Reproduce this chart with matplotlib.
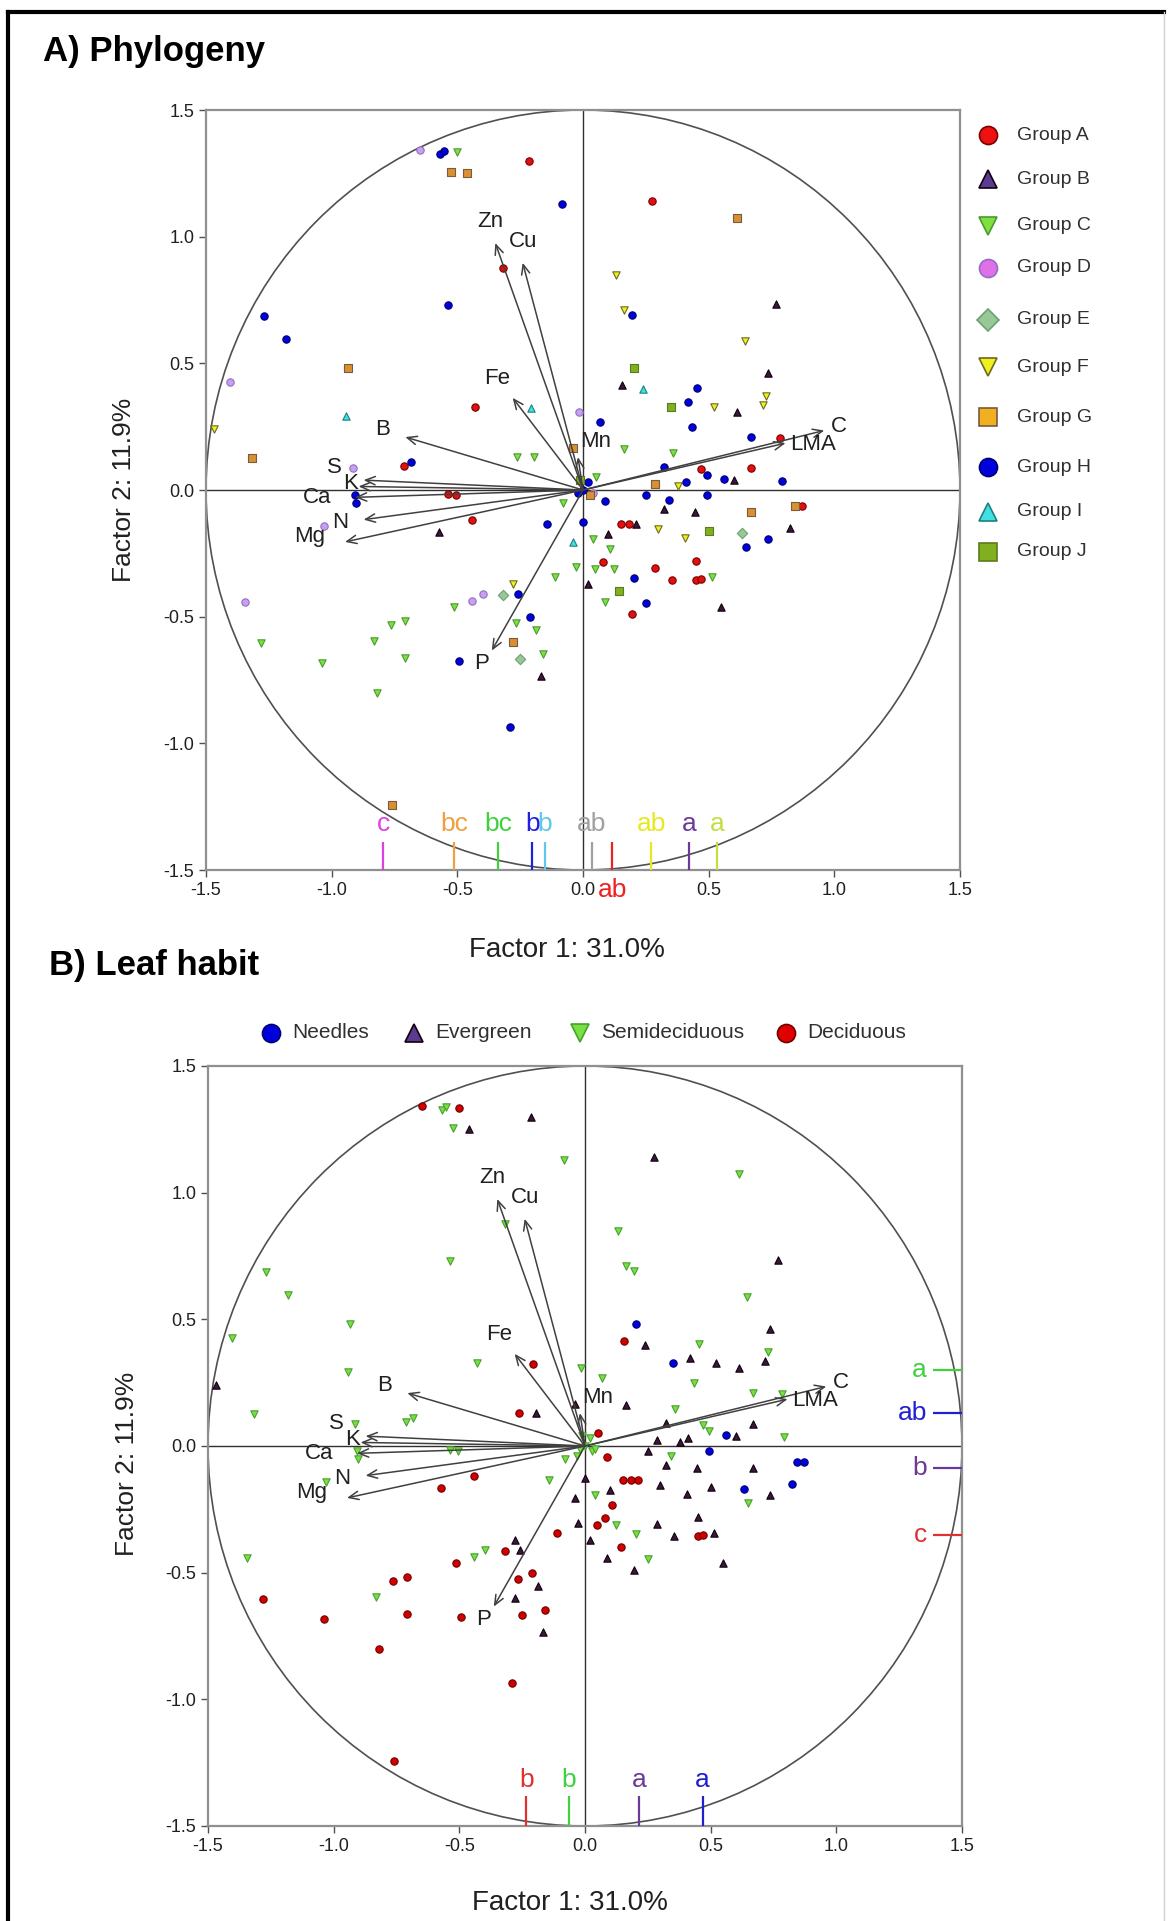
import numpy as np
import matplotlib.pyplot as plt
from matplotlib.patches import Circle

plt.rcParams['font.family'] = ['Liberation Sans', 'DejaVu Sans']
plt.rcParams['axes.unicode_minus'] = False

# sample scores on factor 1 / factor 2, with phylogenetic group and leaf habit
pc1 = [-0.647, -0.567, -0.555, -0.500, -0.527, -0.460, -0.213, -0.083, -0.320, -0.536,
       -1.269, -1.183, -1.403, -0.937, -0.944, -0.429, -1.316, -0.713, -0.683, -0.917,
       -0.907, -0.904, -0.537, -0.507, -0.571, -1.030, -0.263, -0.196, -0.207, -0.016,
       -0.040, -0.080, -0.143, 0.000, -0.040, -0.027, -0.113, -0.280, -0.260, -0.320,
       -0.396, -0.443, -0.513, -0.209, -0.267, -0.187, -0.280, -0.160, -0.167, -0.493,
       -0.709, -0.763, -0.833, -0.709, -0.820, -1.037, -1.280, -1.344, -0.289, -0.760,
       -1.470, -0.440, -0.250,
       0.275, 0.614, 0.766, 0.194, 0.165, 0.130, 0.645, 0.202, 0.155, 0.238,
       0.737, 0.350, 0.453, 0.419, 0.522, 0.614, 0.717, 0.727, 0.066, 0.433,
       0.667, 0.783, 0.324, 0.469, 0.495, 0.561, 0.601, 0.667, 0.793, 0.287,
       0.376, 0.410, 0.251, 0.493, 0.026, 0.086, 0.324, 0.445, 0.667, 0.845,
       0.870, 0.152, 0.185, 0.210, 0.300, 0.502, 0.634, 0.823, 0.737, 0.405,
       0.647, 0.040, 0.099, 0.106, 0.449, 0.046, 0.125, 0.079, 0.288, 0.202,
       0.353, 0.449, 0.470, 0.515, 0.020, 0.145, 0.089, 0.251, 0.194, 0.551,
       0.165, 0.357, 0.343,
       0.000, 0.020, -0.020, 0.040, -0.010, 0.050, -0.030]
pc2 = [1.341, 1.326, 1.340, 1.335, 1.257, 1.253, 1.300, 1.130, 0.877, 0.731,
       0.688, 0.595, 0.427, 0.481, 0.292, 0.326, 0.127, 0.096, 0.111, 0.088,
       -0.020, -0.050, -0.016, -0.020, -0.166, -0.142, 0.131, 0.131, 0.322, 0.306,
       0.166, -0.053, -0.136, -0.127, -0.205, -0.302, -0.345, -0.370, -0.409, -0.415,
       -0.409, -0.439, -0.462, -0.501, -0.526, -0.552, -0.600, -0.649, -0.735, -0.676,
       -0.517, -0.532, -0.595, -0.663, -0.800, -0.682, -0.604, -0.444, -0.936, -1.242,
       0.240, -0.117, -0.668,
       1.140, 1.072, 0.735, 0.692, 0.711, 0.850, 0.590, 0.481, 0.415, 0.400,
       0.462, 0.327, 0.404, 0.349, 0.327, 0.308, 0.335, 0.370, 0.267, 0.248,
       0.210, 0.205, 0.092, 0.084, 0.058, 0.045, 0.039, 0.088, 0.035, 0.025,
       0.014, 0.033, -0.019, -0.019, -0.019, -0.045, -0.074, -0.088, -0.088, -0.064,
       -0.064, -0.136, -0.133, -0.133, -0.152, -0.162, -0.170, -0.150, -0.195, -0.189,
       -0.224, -0.195, -0.175, -0.234, -0.279, -0.312, -0.312, -0.283, -0.306, -0.347,
       -0.355, -0.357, -0.350, -0.345, -0.370, -0.400, -0.443, -0.448, -0.491, -0.462,
       0.160, 0.146, -0.039,
       0.000, 0.030, -0.010, -0.010, 0.040, 0.050, -0.040]
group = list('DHHCGGAHAHHHDGIAGAHDHHAABDCCIDGCHHICCFHEDDCHCCGCBHCCCCCCCDHGFAE'
             'AGBHFFFJBIBJHHFBFFHHHAHAHHBAHGFHHHGHBBGGAAABFJEBHFHCBCACCAAHAAACBJCHA'
             'BCCHHHHDJC')
habit = (['Dec', 'Semi', 'Semi', 'Dec', 'Semi', 'Ever', 'Ever', 'Semi', 'Semi', 'Semi',
          'Semi', 'Semi', 'Semi', 'Semi', 'Semi', 'Semi', 'Semi', 'Semi', 'Semi', 'Semi',
          'Semi', 'Semi', 'Semi', 'Semi', 'Dec', 'Semi', 'Dec', 'Ever', 'Dec', 'Semi',
          'Ever', 'Semi', 'Semi', 'Ever', 'Ever', 'Ever', 'Dec', 'Ever', 'Ever', 'Dec',
          'Semi', 'Semi', 'Dec', 'Dec', 'Dec', 'Ever', 'Ever', 'Dec', 'Ever', 'Dec',
          'Dec', 'Dec', 'Semi', 'Dec', 'Dec', 'Dec', 'Dec', 'Semi', 'Dec', 'Dec',
          'Ever', 'Dec', 'Dec'] +
         ['Ever', 'Semi', 'Ever', 'Semi', 'Semi', 'Semi', 'Semi', 'Need', 'Dec', 'Ever',
          'Ever', 'Need', 'Semi', 'Ever', 'Ever', 'Ever', 'Ever', 'Semi', 'Semi', 'Semi',
          'Semi', 'Semi', 'Ever', 'Semi', 'Semi', 'Need', 'Ever', 'Ever', 'Semi', 'Ever',
          'Ever', 'Ever', 'Ever', 'Need', 'Semi', 'Dec', 'Ever', 'Ever', 'Ever', 'Need',
          'Need', 'Dec', 'Dec', 'Dec', 'Ever', 'Ever', 'Need', 'Need', 'Ever', 'Ever',
          'Semi', 'Semi', 'Ever', 'Dec', 'Ever', 'Dec', 'Semi', 'Dec', 'Ever', 'Semi',
          'Ever', 'Dec', 'Dec', 'Ever', 'Ever', 'Dec', 'Ever', 'Semi', 'Ever', 'Ever',
          'Ever', 'Semi', 'Semi'] +
         ['Semi', 'Semi', 'Semi', 'Semi', 'Semi', 'Dec', 'Semi'])

# variable loadings
load_names = ['Zn', 'Cu', 'Fe', 'Mn', 'B', 'S', 'K', 'Ca', 'N', 'Mg', 'P', 'LMA', 'C']
load1 = [-0.349, -0.240, -0.280, -0.020, -0.707, -0.873, -0.893, -0.907, -0.873, -0.947, -0.363, 0.806, 0.960]
load2 = [0.975, 0.897, 0.364, 0.130, 0.209, 0.039, 0.014, -0.029, -0.117, -0.205, -0.634, 0.185, 0.235]

# group means on factor 1 with letters
group_names = list('ABCDEFGHIJ')
group_letters = ['ab', 'a', 'bc', 'c', 'ab', 'ab', 'bc', 'b', 'b', 'a']
group_f1 = [0.117, 0.423, -0.338, -0.795, 0.036, 0.272, -0.513, -0.201, -0.151, 0.534]

habit_keys = ['Need', 'Ever', 'Semi', 'Dec']
habit_labels = ['Needles', 'Evergreen', 'Semideciduous', 'Deciduous']
habit_f1_letters = ['a', 'a', 'b', 'b']
habit_f1 = [0.468, 0.216, -0.065, -0.233]
habit_f2_letters = ['ab', 'b', 'a', 'c']
habit_f2 = [0.130, -0.087, 0.300, -0.350]

# legend look (lf = legend fill) and scatter look (fc/ec)
gstyle = {
    'A': dict(marker='o', lf='#ee1111', fc='#e01010', ec='#7a0000'),
    'B': dict(marker='^', lf='#5b3a8f', fc='#3a1838', ec='#120010'),
    'C': dict(marker='v', lf='#80e040', fc='#80e040', ec='#4a9a30'),
    'D': dict(marker='o', lf='#e070e8', fc='#c8a0f0', ec='#9070c0'),
    'E': dict(marker='D', lf='#98c898', fc='#98c898', ec='#70a070'),
    'F': dict(marker='v', lf='#f0f020', fc='#f0f020', ec='#6a6a20'),
    'G': dict(marker='s', lf='#f0b020', fc='#d89030', ec='#7a5a40'),
    'H': dict(marker='o', lf='#0000dd', fc='#0000dd', ec='#000070'),
    'I': dict(marker='^', lf='#40e0e0', fc='#40e0e0', ec='#208080'),
    'J': dict(marker='s', lf='#80b020', fc='#80b020', ec='#5a7a20'),
}
gletter_col = ['#ee2020', '#6a3a9a', '#40d040', '#e040e0', '#a0a0a0',
               '#e8e820', '#f0a040', '#2020e0', '#60c8e8', '#c0e040']
hstyle = {
    'Need': dict(marker='o', lf='#0000dd', fc='#0000dd', ec='#000070'),
    'Ever': dict(marker='^', lf='#5b3a8f', fc='#3a1838', ec='#120010'),
    'Semi': dict(marker='v', lf='#78e040', fc='#78e040', ec='#48a030'),
    'Dec': dict(marker='o', lf='#e00000', fc='#d00000', ec='#700000'),
}
hletter_col = ['#2020d0', '#6a3a9a', '#40d040', '#e03030']

# label offsets (x, y, ha) relative to the arrow tips
lab_off = {'Zn': (-0.02, 0.085, 'center'), 'Cu': (0.0, 0.085, 'center'),
           'Fe': (-0.06, 0.075, 'center'), 'Mn': (0.07, 0.06, 'center'),
           'B': (-0.09, 0.03, 'center'), 'S': (-0.115, 0.05, 'center'),
           'K': (-0.03, 0.01, 'center'), 'Ca': (-0.15, 0.0, 'center'),
           'N': (-0.095, -0.01, 'center'), 'Mg': (-0.14, 0.02, 'center'),
           'P': (-0.04, -0.05, 'center'), 'LMA': (0.02, -0.005, 'left'),
           'C': (0.025, 0.015, 'left')}

W, H = 1169, 1921
fig = plt.figure(figsize=(W / 100, H / 100), dpi=100)


def biplot(ax):
    ticks = np.arange(-1.5, 1.51, 0.5)
    ax.set_xlim(-1.5, 1.5)
    ax.set_ylim(-1.5, 1.5)
    ax.add_patch(Circle((0, 0), 1.5, fill=False, ec='#505050', lw=1.2, zorder=1))
    ax.axhline(0, color='#303030', lw=1, zorder=1)
    ax.axvline(0, color='#303030', lw=1, zorder=1)
    ax.set_xticks(ticks)
    ax.set_yticks(ticks)
    ax.set_xticklabels(['%.1f' % t for t in ticks])
    ax.set_yticklabels(['%.1f' % t for t in ticks])
    ax.tick_params(labelsize=13, length=5, width=1, color='#505050', labelcolor='#202020')
    for s in ax.spines.values():
        s.set_color('#909090')
        s.set_linewidth(1.6)
    for name, lx, ly in zip(load_names, load1, load2):
        ax.annotate('', xy=(lx, ly), xytext=(0, 0), zorder=4,
                    arrowprops=dict(arrowstyle='->,head_length=0.7,head_width=0.3',
                                    color='#404040', lw=1.1, shrinkA=0, shrinkB=0))
        dx, dy, ha = lab_off[name]
        ax.text(lx + dx, ly + dy, name, fontsize=16, ha=ha, va='center',
                color='#202020', zorder=5)


# ---------------- A) Phylogeny ----------------
axA = fig.add_axes([206 / W, 1 - 870 / H, 754 / W, 760 / H])
biplot(axA)
for g in group_names:
    idx = [i for i, gg in enumerate(group) if gg == g]
    st = gstyle[g]
    axA.scatter([pc1[i] for i in idx], [pc2[i] for i in idx], s=28, marker=st['marker'],
                facecolor=st['fc'], edgecolor=st['ec'], linewidth=0.8, zorder=3)
for g, let, m, col in zip(group_names, group_letters, group_f1, gletter_col):
    axA.vlines(m, -1.5, -1.39, color=col, lw=1.6, zorder=6)
    ly = -1.58 if g == 'A' else -1.32
    axA.text(m, ly, let, color=col, fontsize=19, ha='center', va='center',
             clip_on=False, zorder=6)

# ---------------- B) Leaf habit ----------------
axB = fig.add_axes([208 / W, 1 - 1826 / H, 754 / W, 760 / H])
biplot(axB)
for h in habit_keys:
    idx = [i for i, hh in enumerate(habit) if hh == h]
    st = hstyle[h]
    axB.scatter([pc1[i] for i in idx], [pc2[i] for i in idx], s=28, marker=st['marker'],
                facecolor=st['fc'], edgecolor=st['ec'], linewidth=0.8, zorder=3)
for let, m, col in zip(habit_f1_letters, habit_f1, hletter_col):
    axB.vlines(m, -1.5, -1.38, color=col, lw=1.6, zorder=6)
    axB.text(m, -1.32, let, color=col, fontsize=19, ha='center', va='center', zorder=6)
for let, m, col in zip(habit_f2_letters, habit_f2, hletter_col):
    axB.hlines(m, 1.385, 1.5, color=col, lw=1.6, zorder=6)
    axB.text(1.36, m, let, color=col, fontsize=19, ha='right', va='center', zorder=6)

# ---------------- overlay: titles, labels, legends, frame ----------------
ov = fig.add_axes([0, 0, 1, 1], zorder=10)
ov.set_xlim(0, W)
ov.set_ylim(H, 0)
ov.axis('off')
ov.patch.set_alpha(0)

ov.plot([8, 8], [12, H], color='black', lw=3)
ov.plot([8, 1164], [12, 12], color='black', lw=3)
ov.plot([1164, 1164], [12, H], color='#d0d0d0', lw=1)

ov.text(43, 51, 'A) Phylogeny', fontsize=25, fontweight='bold', ha='left', va='center')
ov.text(49, 966, 'B) Leaf habit', fontsize=25, fontweight='bold', ha='left', va='center')
ov.text(567, 950, 'Factor 1: 31.0%', fontsize=20, ha='center', va='center', color='#202020')
ov.text(570, 1903, 'Factor 1: 31.0%', fontsize=20, ha='center', va='center', color='#202020')
ov.text(124, 490, 'Factor 2: 11.9%', fontsize=19, rotation=90, ha='center', va='center', color='#202020')
ov.text(127, 1464, 'Factor 2: 11.9%', fontsize=19, rotation=90, ha='center', va='center', color='#202020')

legA_y = [135, 179, 226, 268, 320, 367, 417, 467, 512, 552]
for g, y in zip(group_names, legA_y):
    st = gstyle[g]
    ov.plot(988, y, marker=st['marker'], ms=13 if st['marker'] != 'D' else 11,
            mfc=st['lf'], mec=st['ec'], mew=1.2, ls='none')
    ov.text(1017, y, 'Group ' + g, fontsize=14, ha='left', va='center', color='#303030')

legB_x = [271, 414, 580, 786]
for h, lab, x in zip(habit_keys, habit_labels, legB_x):
    st = hstyle[h]
    ov.plot(x, 1033, marker=st['marker'], ms=13, mfc=st['lf'], mec=st['ec'],
            mew=1.2, ls='none')
    ov.text(x + 21, 1033, lab, fontsize=15, ha='left', va='center', color='#303030')

fig.savefig('out.png', dpi=100)
